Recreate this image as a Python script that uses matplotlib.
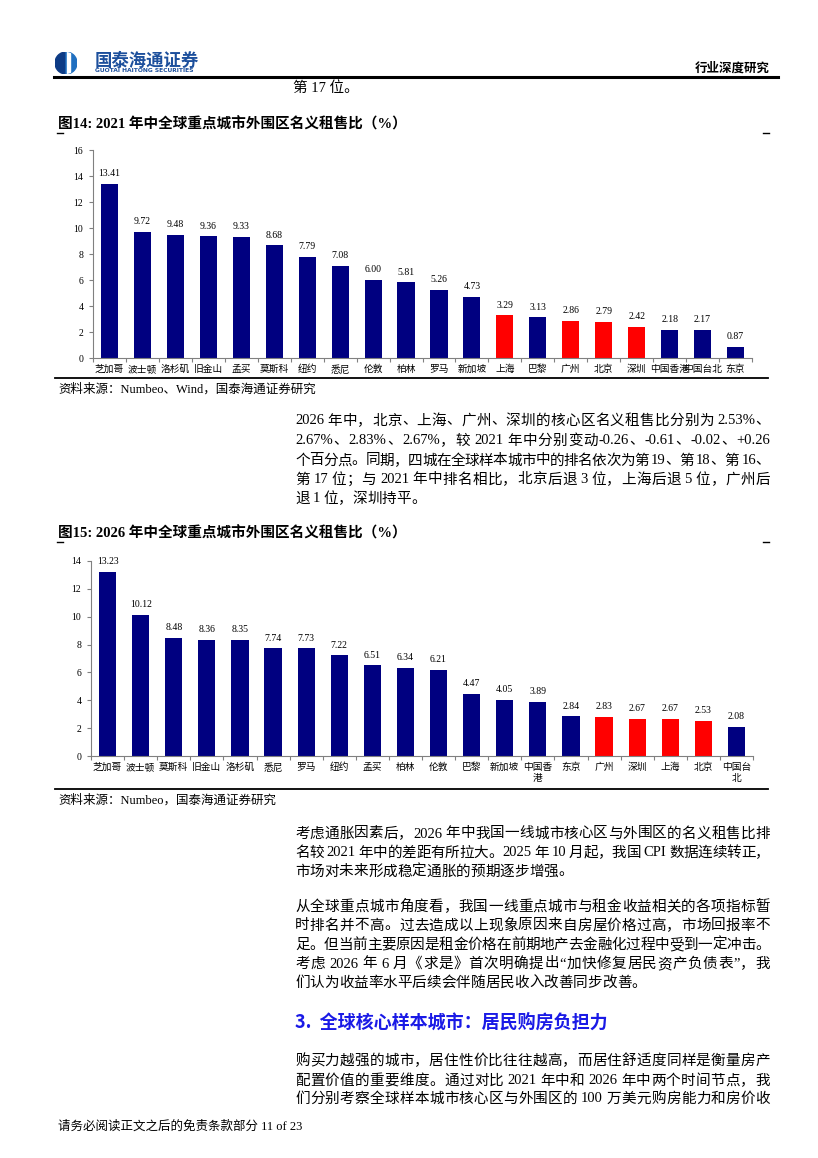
import re
import numpy as np
import matplotlib
matplotlib.use("Agg")
import matplotlib.pyplot as plt
from matplotlib.lines import Line2D
from matplotlib.patches import Circle, Rectangle, Wedge

W, H = 818, 1158
SERIF = ["Liberation Serif", "Noto Sans CJK SC", "DejaVu Sans"]
SANS = ["Noto Sans CJK SC", "DejaVu Sans"]
plt.rcParams["font.family"] = SERIF

# 图14 数据（2021 年中）
cities_2021 = ["芝加哥", "波士顿", "洛杉矶", "旧金山", "孟买", "莫斯科", "纽约", "悉尼",
               "伦敦", "柏林", "罗马", "新加坡", "上海", "巴黎", "广州", "北京",
               "深圳", "中国香港", "中国台北", "东京"]
ratio_2021 = [13.41, 9.72, 9.48, 9.36, 9.33, 8.68, 7.79, 7.08, 6.00, 5.81,
              5.26, 4.73, 3.29, 3.13, 2.86, 2.79, 2.42, 2.18, 2.17, 0.87]

# 图15 数据（2026 年中）
cities_2026 = ["芝加哥", "波士顿", "莫斯科", "旧金山", "洛杉矶", "悉尼", "罗马", "纽约",
               "孟买", "柏林", "伦敦", "巴黎", "新加坡", "中国香港", "东京", "广州",
               "深圳", "上海", "北京", "中国台北"]
ratio_2026 = [13.23, 10.12, 8.48, 8.36, 8.35, 7.74, 7.73, 7.22, 6.51, 6.34,
              6.21, 4.47, 4.05, 3.89, 2.84, 2.83, 2.67, 2.67, 2.53, 2.08]
labels_2026 = [c if len(c) < 4 else c[:3] + "\n" + c[3:] for c in cities_2026]

tier1 = {"北京", "上海", "广州", "深圳"}
NAVY, RED = "#000080", "#ff0000"

fig = plt.figure(figsize=(W / 100, H / 100), dpi=100)
renderer = fig.canvas.get_renderer()


def fx(x):
    return x / W


def fy(y):
    return 1 - y / H


def txt(x, y, s, **kw):
    kw.setdefault("va", "center")
    return fig.text(fx(x), fy(y), s, **kw)


def hline(x0, x1, y, lw=1.2):
    fig.add_artist(Line2D([fx(x0), fx(x1)], [fy(y), fy(y)], lw=lw, color="black"))


_wcache = {}


def width_of(tok, size):
    key = (tok, size)
    if key not in _wcache:
        t = fig.text(0, 0, tok, fontsize=size)
        _wcache[key] = t.get_window_extent(renderer).width
        t.remove()
    return _wcache[key]


def justify(line, y, size=10.5, x0=295, x1=770, last=False):
    toks = re.findall(r"[A-Za-z0-9.%+\-]+| |.", line)
    ws = [size * 0.3 if t == " " else width_of(t, size) for t in toks]
    gap = 0 if last else (x1 - x0 - sum(ws)) / max(len(toks) - 1, 1)
    x = x0
    for t, w in zip(toks, ws):
        if t != " ":
            txt(x, y, t, fontsize=size, ha="left")
        x += w + gap


def paragraph(lines, ys, full_last=False):
    for i, (ln, y) in enumerate(zip(lines, ys)):
        justify(ln, y, last=(i == len(lines) - 1 and not full_last))


def bar_chart(x0, x1, ytop, ybot, cities, values, labels, ymax):
    ax = fig.add_axes([fx(x0), fy(ybot), (x1 - x0) / W, (ybot - ytop) / H])
    x = np.arange(len(cities))
    colors = [RED if c in tier1 else NAVY for c in cities]
    ax.bar(x, values, width=0.52, color=colors)
    for xi, v in zip(x, values):
        ax.annotate(f"{v:.2f}", (xi, v), xytext=(0, 4), textcoords="offset points",
                    ha="center", va="bottom", fontsize=7)
    ax.set_xlim(-0.5, len(cities) - 0.5)
    ax.set_ylim(0, ymax)
    ax.set_yticks(range(0, ymax + 1, 2))
    ax.set_xticks(x)
    ax.set_xticklabels(labels, fontsize=7, linespacing=1.3)
    ax.set_xticks(np.arange(-0.5, len(cities), 1), minor=True)
    ax.tick_params(axis="x", which="major", length=0, pad=5)
    ax.tick_params(axis="x", which="minor", length=3, color="#808080", width=0.8)
    ax.tick_params(axis="y", length=3, color="#808080", width=0.8, pad=4, labelsize=7)
    for s in ("top", "right"):
        ax.spines[s].set_visible(False)
    for s in ("left", "bottom"):
        ax.spines[s].set_color("#808080")
        ax.spines[s].set_linewidth(0.8)
    return ax


# 页眉
logo = fig.add_axes([fx(55), fy(74), 22 / W, 22 / H])
logo.set_xlim(-1, 1)
logo.set_ylim(-1, 1)
logo.set_aspect("equal")
logo.axis("off")
clip = Circle((0, 0), 1, transform=logo.transData)
logo.add_patch(Wedge((0, 0), 1, 90, 270, color="#0d3b85"))
logo.add_patch(Wedge((0, 0), 1, 270, 90, color="#1f6fc0"))
band = Rectangle((0.05, -1.2), 0.3, 2.4, color="white")
logo.add_patch(band)
band.set_clip_path(clip)
txt(95, 61, "国泰海通证券", fontsize=12.5, fontweight="bold", color="#1c4f9c", family=SANS)
txt(95, 71, "GUOTAI HAITONG SECURITIES", fontsize=4.3, fontweight="bold",
    color="#1c4f9c", family=["DejaVu Sans"])
txt(770, 68, "行业深度研究", fontsize=9, ha="right", family=SANS, fontweight="bold")
hline(54, 778, 77, lw=2.2)

txt(293, 88, "第 17 位。", fontsize=10.5)

# 图14
txt(58, 124, "图14: 2021 年中全球重点城市外围区名义租售比（%）", fontsize=10.5, fontweight="bold")
hline(57, 63, 133, lw=1)
hline(763, 769, 133, lw=1)
bar_chart(93, 752, 150, 358, cities_2021, ratio_2021, cities_2021, 16)
hline(55, 768, 378, lw=1.3)
txt(58, 389, "资料来源：Numbeo、Wind，国泰海通证券研究", fontsize=9)

# 正文 1
p1 = ["2026 年中，北京、上海、广州、深圳的核心区名义租售比分别为 2.53%、",
      "2.67%、2.83%、2.67%，较 2021 年中分别变动-0.26、-0.61、-0.02、+0.26",
      "个百分点。同期，四城在全球样本城市中的排名依次为第 19、第 18、第 16、",
      "第 17 位；与 2021 年中排名相比，北京后退 3 位，上海后退 5 位，广州后",
      "退 1 位，深圳持平。"]
paragraph(p1, [421, 441, 461, 480, 499])

# 图15
txt(58, 533, "图15: 2026 年中全球重点城市外围区名义租售比（%）", fontsize=10.5, fontweight="bold")
hline(57, 63, 542, lw=1)
hline(763, 769, 542, lw=1)
bar_chart(91, 753, 561, 756, cities_2026, ratio_2026, labels_2026, 14)
hline(55, 768, 789, lw=1.3)
txt(58, 800, "资料来源：Numbeo，国泰海通证券研究", fontsize=9)

# 正文 2、3
p2 = ["考虑通胀因素后，2026 年中我国一线城市核心区与外围区的名义租售比排",
      "名较 2021 年中的差距有所拉大。2025 年 10 月起，我国 CPI 数据连续转正，",
      "市场对未来形成稳定通胀的预期逐步增强。"]
paragraph(p2, [834, 853, 872])

p3 = ["从全球重点城市角度看，我国一线重点城市与租金收益相关的各项指标暂",
      "时排名并不高。过去造成以上现象原因来自房屋价格过高，市场回报率不",
      "足。但当前主要原因是租金价格在前期地产去金融化过程中受到一定冲击。",
      "考虑 2026 年 6 月《求是》首次明确提出“加快修复居民资产负债表”，我",
      "们认为收益率水平后续会伴随居民收入改善同步改善。"]
paragraph(p3, [907, 926, 945, 964, 983])

# 第 3 节
txt(295, 1022, "3.  全球核心样本城市：居民购房负担力", fontsize=13, fontweight="bold",
    color="#1a1ae6", family=SANS)
p4 = ["购买力越强的城市，居住性价比往往越高，而居住舒适度同样是衡量房产",
      "配置价值的重要维度。通过对比 2021 年中和 2026 年中两个时间节点，我",
      "们分别考察全球样本城市核心区与外围区的 100 万美元购房能力和房价收"]
paragraph(p4, [1061, 1081, 1099], full_last=True)

# 页脚
txt(58, 1127, "请务必阅读正文之后的免责条款部分 11 of 23", fontsize=9)

fig.savefig("out.png", dpi=100)
